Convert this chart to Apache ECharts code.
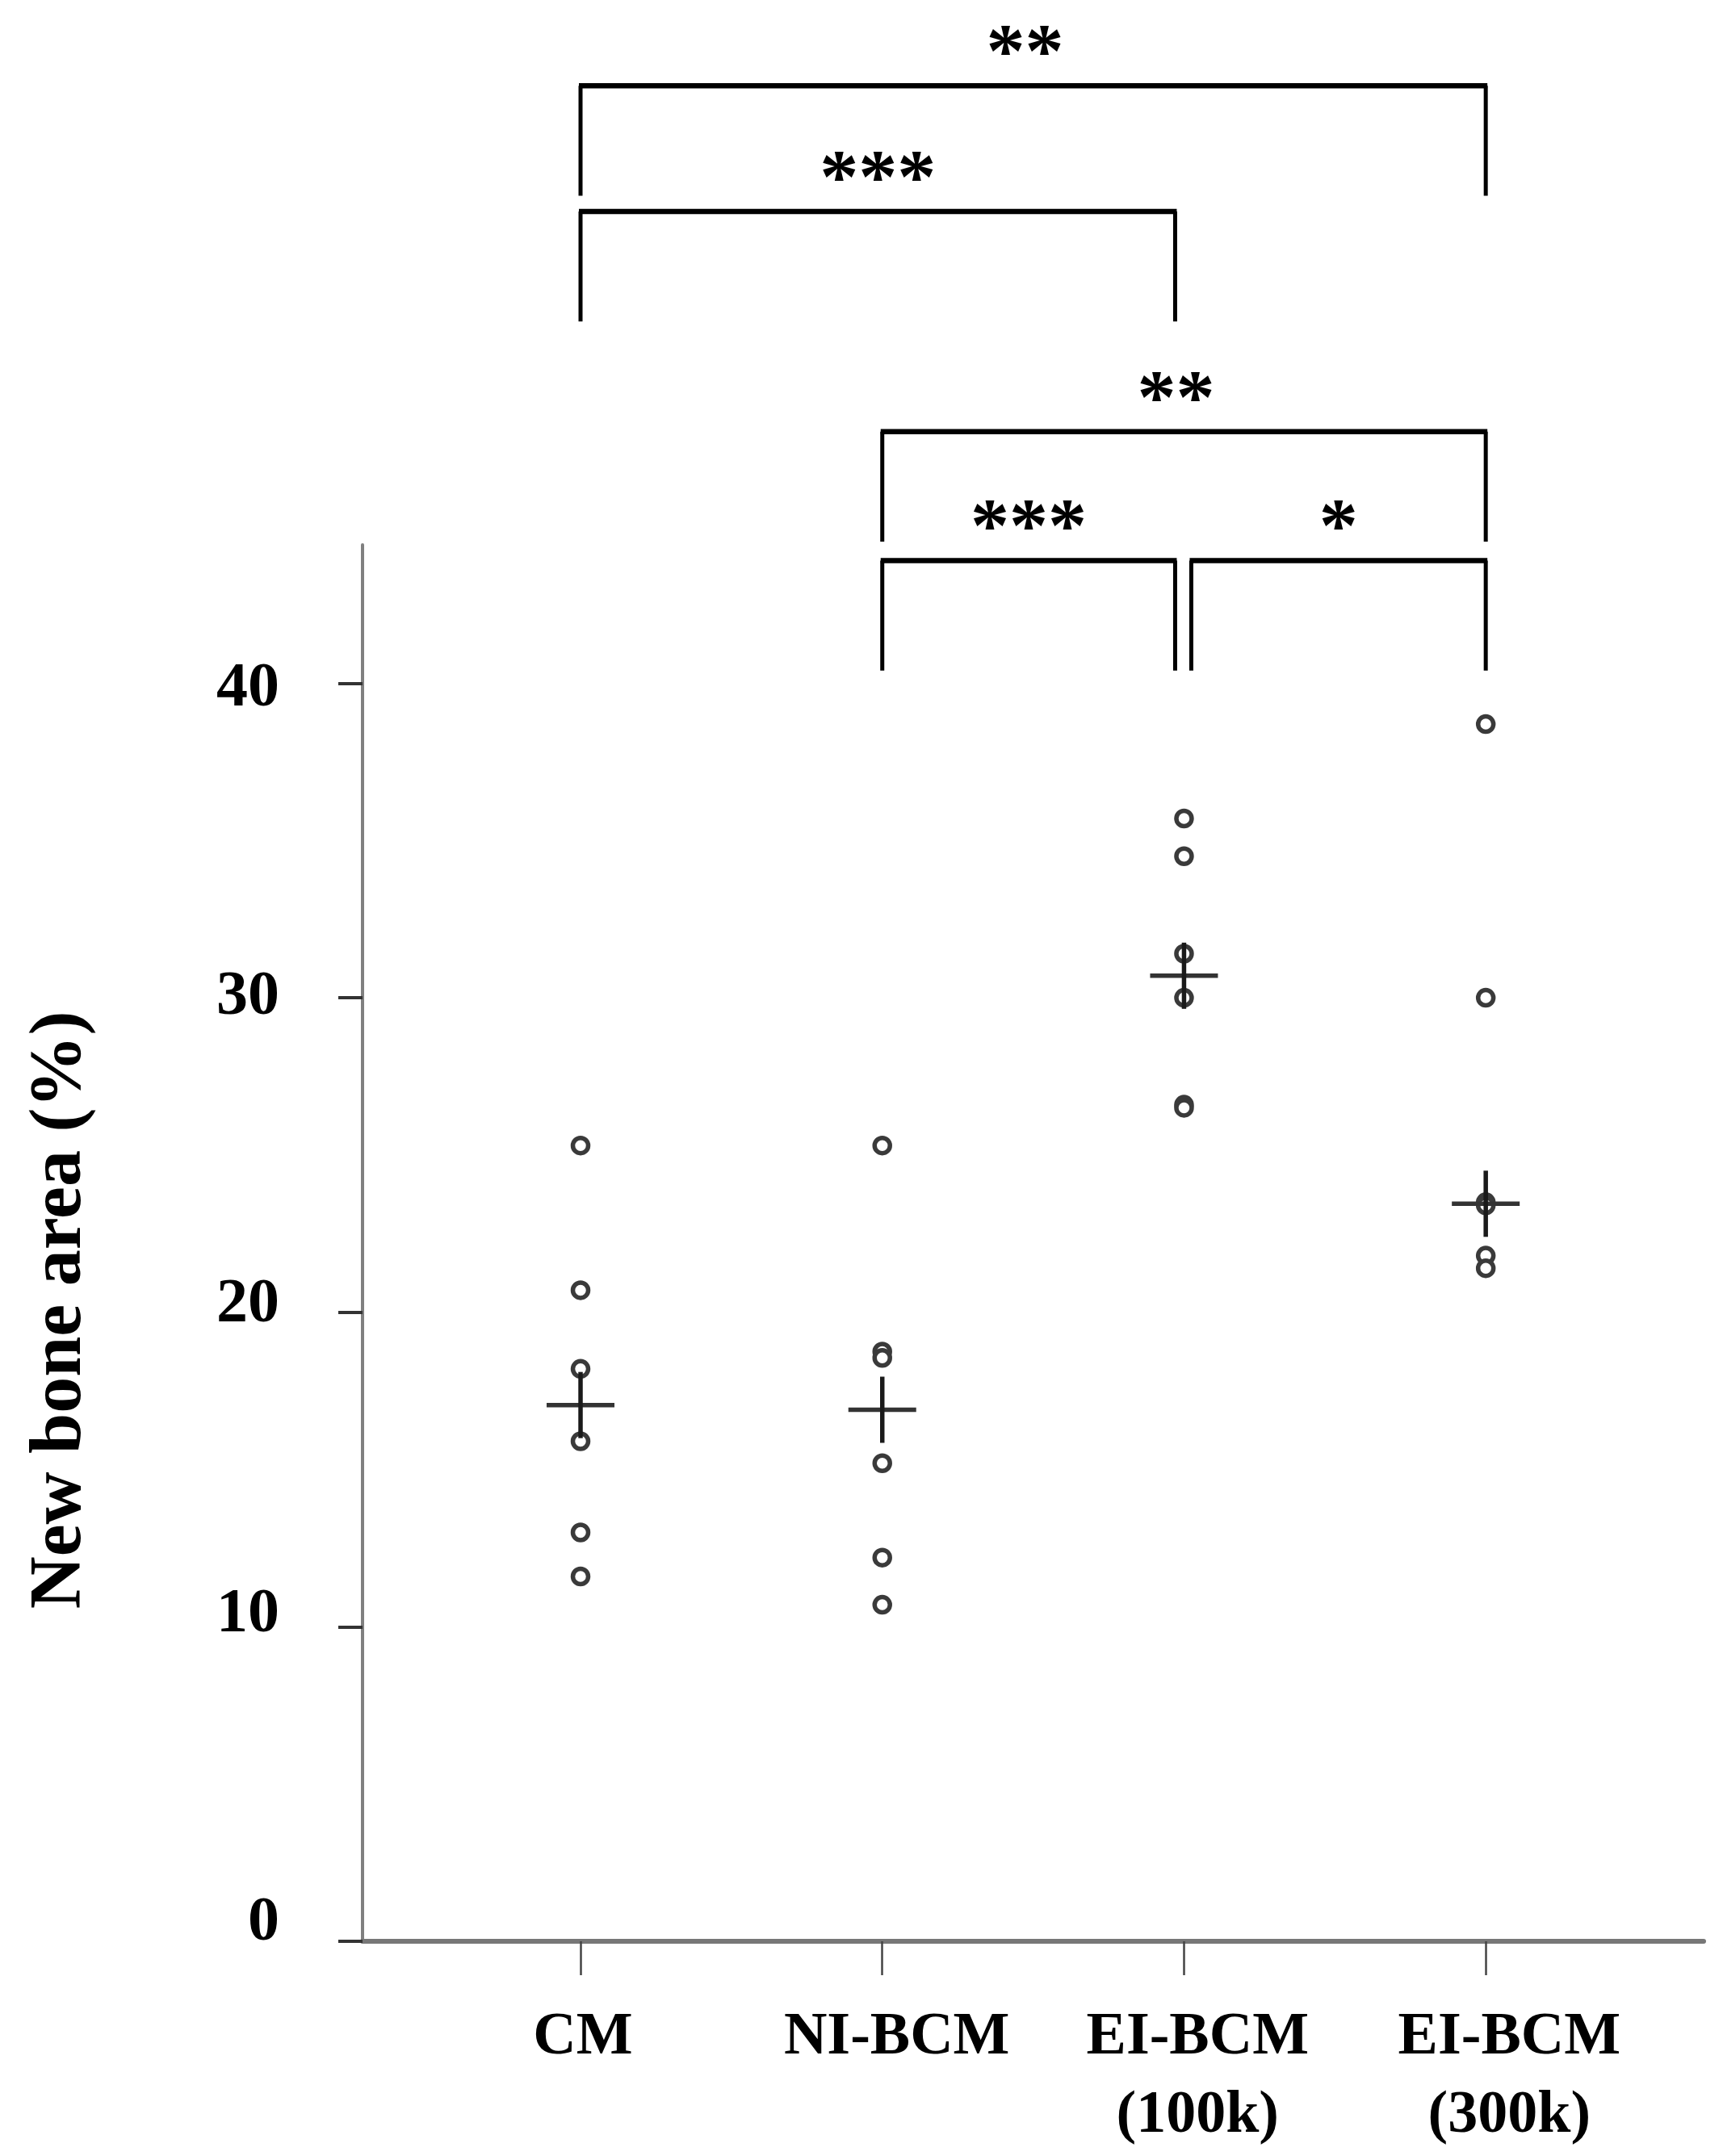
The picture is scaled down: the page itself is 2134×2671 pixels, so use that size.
<!DOCTYPE html>
<html>
<head>
<meta charset="utf-8">
<title>New bone area</title>
<script src="https://cdn.jsdelivr.net/npm/echarts@6.0.0/dist/echarts.min.js"></script>
<style>
  html, body { margin: 0; padding: 0; background: #fff; }
  #chart { width: 2134px; height: 2671px; }
</style>
</head>
<body>
<div id="chart"></div>
<script>
// groups on the x axis (position 1..4)
let groups = ["CM", "NI-BCM", "EI-BCM\n(100k)", "EI-BCM\n(300k)"];

// new bone area (%) of each sample
let cmValues = [25.3, 20.7, 18.2, 15.9, 13.0, 11.6];
let niValues = [25.3, 18.75, 18.55, 15.2, 12.2, 10.7];
let ei100Values = [35.7, 34.5, 31.4, 30.0, 26.6, 26.5];
let ei300Values = [38.7, 30.0, 23.5, 23.4, 21.8, 21.4];

// median of each group (the cross)
let medians = [17.05, 16.9, 30.7, 23.45];

let yTicks = [0, 10, 20, 30, 40];

// significance brackets: from group, to group, bar height (%), stars
let bracketFrom = [1, 1, 2, 2, 3];
let bracketTo = [4, 3, 4, 3, 4];
let bracketLevel = [59.0, 55.0, 48.0, 43.9, 43.9];
let bracketStars = ["**", "***", "**", "***", "*"];
let legDrop = 3.5;

let FONT = '"Liberation Serif", "Times New Roman", serif';

let V = {
    dom: document.querySelector("#chart")
};

V.init = function(){
    V.renderChart();
}

V.renderBracket = function(params, api){
    let i = params.dataIndex;
    let from = api.value(0);
    let to = api.value(1);
    let level = api.value(2);
    let p1 = api.coord([from, level]);
    let p2 = api.coord([to, level]);
    let foot = api.coord([from, level - legDrop])[1];
    // leave a small gap where two brackets meet on the same group
    if (from === 3) p1[0] += 9;
    if (to === 3) p2[0] -= 11;
    let stars = bracketStars[i];
    return {
        type: 'group',
        children: [
            { type: 'line', shape: { x1: p1[0] - 2, y1: p1[1], x2: p2[0] + 2, y2: p2[1] },
              style: { stroke: '#000', lineWidth: 6.5 } },
            { type: 'line', shape: { x1: p1[0], y1: p1[1], x2: p1[0], y2: foot },
              style: { stroke: '#000', lineWidth: 5 } },
            { type: 'line', shape: { x1: p2[0], y1: p2[1], x2: p2[0], y2: foot },
              style: { stroke: '#000', lineWidth: 5 } },
            { type: 'text', x: (p1[0] + p2[0]) / 2 - (stars.length === 2 ? 10 : 0), y: p1[1] - 36,
              style: { text: stars, fontFamily: FONT, fontWeight: 'bold', fontSize: 96,
                       fill: '#000', align: 'center', verticalAlign: 'middle' } }
        ]
    };
}

V.renderMedian = function(params, api){
    let c = api.coord([api.value(0), api.value(1)]);
    return {
        type: 'group',
        children: [
            { type: 'line', shape: { x1: c[0] - 42, y1: c[1], x2: c[0] + 42, y2: c[1] },
              style: { stroke: '#333', lineWidth: 5.5 } },
            { type: 'line', shape: { x1: c[0], y1: c[1] - 41, x2: c[0], y2: c[1] + 41 },
              style: { stroke: '#1a1a1a', lineWidth: 5.5 } }
        ]
    };
}

V.renderChart = function(){
    let myChart = echarts.init(V.dom, null, { renderer: 'canvas' });

    let points = [];
    [cmValues, niValues, ei100Values, ei300Values].forEach((vals, g) => {
        vals.forEach(v => points.push([g + 1, v]));
    });
    let medianData = medians.map((m, g) => [g + 1, m]);
    let bracketData = bracketFrom.map((f, i) => [f, bracketTo[i], bracketLevel[i]]);

    let groupPos = groups.map((g, i) => i + 1);
    // labels sit a little right of their ticks in the original
    let labelShift = [0.008, 0.048, 0.045, 0.078];
    let yLabelShift = [0.56, 0.38, 0.23, 0.0, -0.18];

    let option = {
        backgroundColor: '#fff',
        animation: false,
        grid: {
            left: 449,
            right: 24,
            top: 675,
            bottom: 266,
            containLabel: false,
            outerBoundsMode: 'none'
        },
        xAxis: {
            type: 'value',
            min: 0.2775,
            max: 4.722,
            splitLine: { show: false },
            axisLine: { onZero: false, lineStyle: { color: '#777', width: 6 } },
            axisTick: {
                show: true,
                customValues: groupPos,
                length: 42,
                lineStyle: { color: '#444', width: 2.5 }
            },
            axisLabel: {
                customValues: groupPos.map((p, i) => p + labelShift[i]),
                formatter: function(value){
                    return groups[Math.round(value) - 1];
                },
                margin: 71,
                fontFamily: FONT,
                fontWeight: 'bold',
                fontSize: 74,
                lineHeight: 97,
                color: '#000'
            }
        },
        yAxis: {
            type: 'value',
            min: 0,
            max: 44.4,
            interval: 10,
            name: 'New bone area (%)',
            nameLocation: 'middle',
            nameGap: 328,
            nameTextStyle: {
                fontFamily: FONT,
                fontWeight: 'bold',
                fontSize: 90,
                color: '#000',
                padding: [0, 166, 0, 0]
            },
            splitLine: { show: false },
            axisLine: { show: true, onZero: false, lineStyle: { color: '#808080', width: 4 } },
            axisTick: {
                show: true,
                customValues: yTicks,
                length: 30,
                lineStyle: { color: '#333', width: 4 }
            },
            axisLabel: {
                customValues: yTicks.map((t, i) => t + yLabelShift[i]),
                formatter: function(value){
                    return String(yTicks[Math.round(value / 10)]);
                },
                margin: 103,
                fontFamily: FONT,
                fontWeight: 'bold',
                fontSize: 78,
                color: '#000'
            }
        },
        series: [
            {
                name: 'samples',
                type: 'scatter',
                data: points,
                symbol: 'circle',
                symbolSize: 19,
                itemStyle: { color: '#fff', borderColor: '#3a3a3a', borderWidth: 5.5, opacity: 1 }
            },
            {
                name: 'median',
                type: 'custom',
                data: medianData,
                encode: { x: 0, y: 1 },
                renderItem: V.renderMedian,
                clip: false,
                z: 3
            },
            {
                name: 'significance',
                type: 'custom',
                data: bracketData,
                encode: { x: [0, 1], y: 2 },
                renderItem: V.renderBracket,
                clip: false,
                z: 3
            }
        ]
    };

    if (option && typeof option === 'object') {
        myChart.setOption(option);
    }

    window.addEventListener('resize', myChart.resize);
}

V.init();
</script>
</body>
</html>
